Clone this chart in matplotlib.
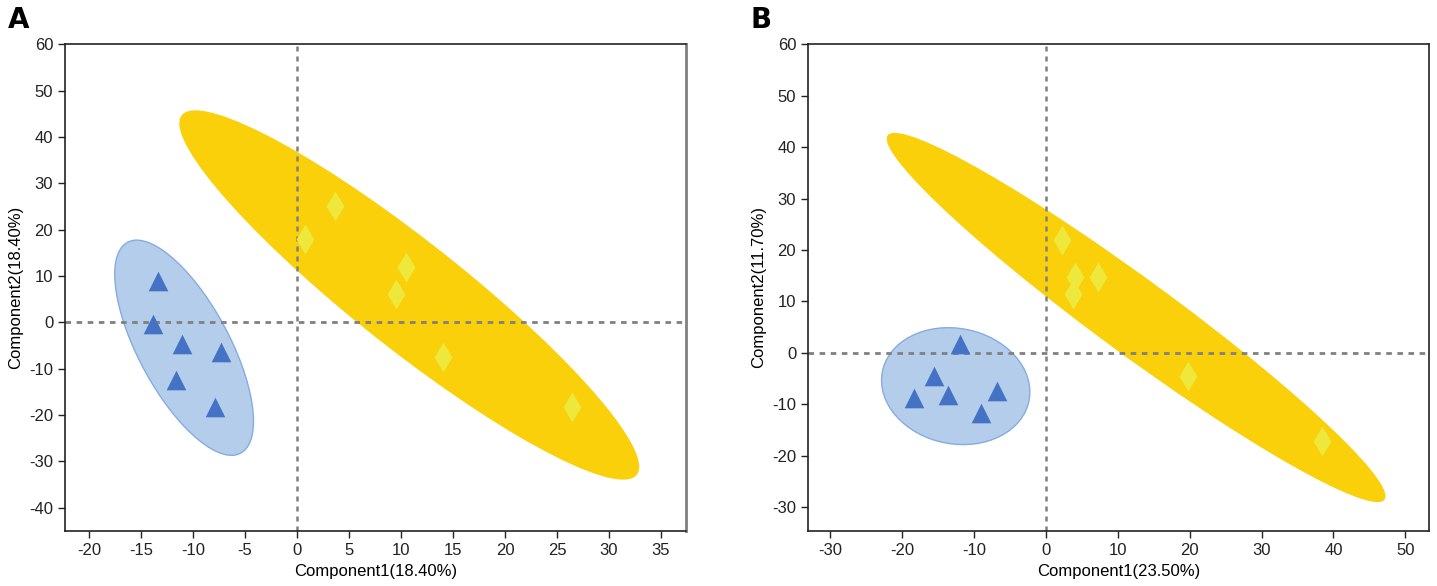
import numpy as np
import matplotlib
matplotlib.use("Agg")
import matplotlib.pyplot as plt
from matplotlib.patches import Ellipse

plt.rcParams['axes.unicode_minus'] = False
plt.rcParams['font.family'] = ['Liberation Sans Narrow', 'Liberation Sans', 'DejaVu Sans']

# panel A scores
a_grp1_x = [-13.4, -13.8, -11.1, -7.3, -11.6, -7.9]
a_grp1_y = [9.0, -0.3, -4.6, -6.4, -12.4, -18.3]
a_grp2_x = [3.65, 0.73, 10.5, 9.5, 14.0, 26.4]
a_grp2_y = [25.2, 18.0, 12.0, 6.0, -7.5, -18.4]

# panel B scores
b_grp1_x = [-11.9, -15.6, -18.3, -13.6, -6.8, -9.1]
b_grp1_y = [1.7, -4.5, -8.7, -8.2, -7.4, -11.8]
b_grp2_x = [2.2, 4.0, 7.2, 3.8, 19.7, 38.4]
b_grp2_y = [22.0, 14.7, 14.7, 11.4, -4.5, -17.1]

a_xlabel = 'Component1(18.40%)'
a_ylabel = 'Component2(18.40%)'
b_xlabel = 'Component1(23.50%)'
b_ylabel = 'Component2(11.70%)'

BLUE = '#4472c4'
BLUE_FILL = '#b4cdea'
BLUE_EDGE = '#86ace0'
YELLOW = '#f9d00a'
DIAMOND = '#efe83c'


def conf_ellipse(ax, x, y, fc, ec, lw):
    # 95% normal ellipse from sample covariance
    x = np.asarray(x)
    y = np.asarray(y)
    cov = np.cov(x, y)
    vals, vecs = np.linalg.eigh(cov)
    order = vals.argsort()[::-1]
    vals, vecs = vals[order], vecs[:, order]
    k = np.sqrt(5.991)
    angle = np.degrees(np.arctan2(vecs[1, 0], vecs[0, 0]))
    e = Ellipse((x.mean(), y.mean()), 2 * k * np.sqrt(vals[0]), 2 * k * np.sqrt(vals[1]),
                angle=angle, facecolor=fc, edgecolor=ec, linewidth=lw, zorder=1)
    ax.add_patch(e)


def panel(ax, g1x, g1y, g2x, g2y, xlim, ylim, xticks, yticks, xlabel, ylabel):
    conf_ellipse(ax, g2x, g2y, YELLOW, 'none', 0)
    conf_ellipse(ax, g1x, g1y, BLUE_FILL, BLUE_EDGE, 1.0)
    ax.axvline(0, color='#808080', linestyle=(0, (2, 2)), linewidth=1.8, zorder=2)
    ax.axhline(0, color='#808080', linestyle=(0, (2, 2)), linewidth=2.0, zorder=2)
    ax.scatter(g1x, g1y, marker='^', s=200, color=BLUE, linewidths=0, zorder=3)
    ax.scatter(g2x, g2y, marker='d', s=230, color=DIAMOND, linewidths=0, zorder=3)
    ax.set_xlim(xlim)
    ax.set_ylim(ylim)
    ax.set_xticks(xticks)
    ax.set_yticks(yticks)
    ax.tick_params(direction='out', length=5, width=1, labelsize=12, colors='#222222')
    for s in ax.spines.values():
        s.set_color('#222222')
        s.set_linewidth(1.2)
    ax.set_xlabel(xlabel, family=['Liberation Sans', 'DejaVu Sans'], fontsize=12, labelpad=5)
    ax.set_ylabel(ylabel, family=['Liberation Sans', 'DejaVu Sans'], fontsize=12, labelpad=4)


fig = plt.figure(figsize=(14.37, 5.86), dpi=100)
axA = fig.add_axes([65 / 1437, 55.3 / 586, 621 / 1437, 486.4 / 586])
axB = fig.add_axes([808 / 1437, 55.3 / 586, 621 / 1437, 486.4 / 586])

panel(axA, a_grp1_x, a_grp1_y, a_grp2_x, a_grp2_y, (-22.3, 37.4), (-45, 60),
      range(-20, 36, 5), range(-40, 61, 10), a_xlabel, a_ylabel)
axA.spines['right'].set_color('#808080')
axA.spines['right'].set_linewidth(2)

panel(axB, b_grp1_x, b_grp1_y, b_grp2_x, b_grp2_y, (-33.1, 53.3), (-34.6, 60),
      range(-30, 51, 10), range(-30, 61, 10), b_xlabel, b_ylabel)

fig.text(8 / 1437, 1 - 20 / 586, 'A', fontsize=20, fontweight='bold', va='center', ha='left',
         family=['DejaVu Sans'])
fig.text(750 / 1437, 1 - 20 / 586, 'B', fontsize=20, fontweight='bold', va='center', ha='left',
         family=['DejaVu Sans'])

fig.savefig('out.png', dpi=100)
